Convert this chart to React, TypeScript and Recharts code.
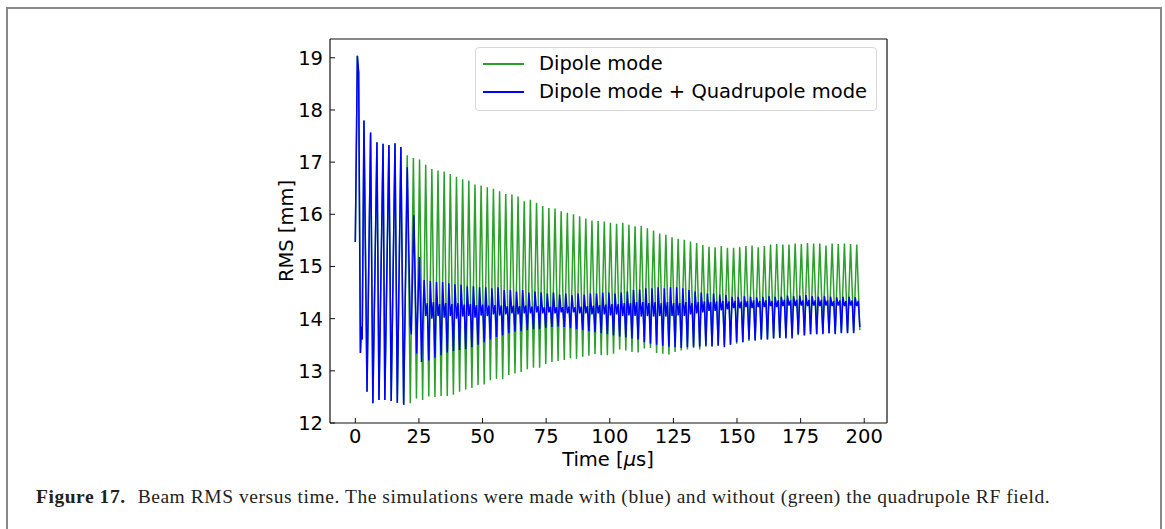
import { LineChart, Line, XAxis, YAxis } from "recharts";

// shared start (both runs identical until the quadrupole field kicks in)
const earlyTimes = [0, 0.8, 1.3, 2.0, 2.4, 2.7, 3.4, 4.6, 6.0, 6.9, 8.5, 9.3, 10.9, 11.6, 13.2, 14.1, 15.6, 16.5, 17.9, 19.0];
const earlyValues = [15.47, 19.04, 18.72, 13.34, 13.85, 13.6, 17.8, 12.6, 17.57, 12.38, 17.38, 12.44, 17.35, 12.44, 17.33, 12.42, 17.36, 12.39, 17.29, 12.35];

const FIRST_PEAK = 20.4;
const CYCLE = 2.42;

// dipole mode: peak / trough of each oscillation after t = 20.4 us
const dipolePeaks = [
  17.13, 17.08, 17.05, 16.95, 16.87, 16.84, 16.82, 16.77, 16.72, 16.67,
  16.65, 16.57, 16.55, 16.52, 16.49, 16.44, 16.39, 16.38, 16.34, 16.25,
  16.28, 16.22, 16.16, 16.12, 16.11, 16.06, 16.03, 16.0, 15.96, 15.92,
  15.88, 15.87, 15.86, 15.84, 15.82, 15.84, 15.8, 15.77, 15.78, 15.73,
  15.69, 15.63, 15.61, 15.56, 15.53, 15.51, 15.48, 15.45, 15.41, 15.38,
  15.37, 15.39, 15.36, 15.36, 15.37, 15.39, 15.4, 15.37, 15.39, 15.42,
  15.43, 15.42, 15.42, 15.44, 15.43, 15.45, 15.44, 15.44, 15.4, 15.44,
  15.43, 15.44, 15.43, 15.42,
];
const dipoleTroughs = [
  12.38, 12.47, 12.44, 12.51, 12.5, 12.52, 12.52, 12.54, 12.6, 12.64,
  12.67, 12.73, 12.74, 12.82, 12.85, 12.84, 12.92, 12.95, 12.98, 13.03,
  13.06, 13.06, 13.13, 13.17, 13.19, 13.21, 13.24, 13.23, 13.27, 13.29,
  13.32, 13.3, 13.3, 13.33, 13.41, 13.39, 13.36, 13.35, 13.43, 13.44,
  13.34, 13.33, 13.31, 13.36, 13.39, 13.41, 13.44, 13.41, 13.46, 13.46,
  13.49, 13.49, 13.5, 13.52, 13.55, 13.57, 13.58, 13.6, 13.6, 13.62,
  13.63, 13.65, 13.66, 13.68, 13.68, 13.7, 13.7, 13.71, 13.72, 13.72,
  13.73, 13.73, 13.74, 13.78,
];

// dipole + quadrupole: switch-on transient
const quadStartTimes = [20.4, 21.6, 22.0, 23.0, 24.1, 24.5, 25.2, 26.0];
const quadStartValues = [16.9, 13.88, 13.7, 15.98, 13.33, 14.08, 15.18, 13.17];

// then per cycle (cycle 3 .. 73): peak, dip, bump, trough
const quadPeaks = [
  14.74, 14.72, 14.7, 14.7, 14.68, 14.66, 14.65, 14.62, 14.62, 14.6,
  14.6, 14.58, 14.6, 14.55, 14.55, 14.52, 14.55, 14.5, 14.52, 14.5,
  14.48, 14.5, 14.46, 14.48, 14.45, 14.48, 14.46, 14.48, 14.48, 14.5,
  14.5, 14.48, 14.5, 14.52, 14.55, 14.56, 14.58, 14.58, 14.6, 14.58,
  14.6, 14.6, 14.58, 14.55, 14.52, 14.5, 14.48, 14.48, 14.46, 14.45,
  14.42, 14.42, 14.43, 14.42, 14.41, 14.42, 14.43, 14.42, 14.42, 14.44,
  14.43, 14.44, 14.45, 14.43, 14.42, 14.43, 14.42, 14.41, 14.42, 14.42,
  14.41,
];
const quadDips = [
  14.05, 14.0, 14.05, 14.02, 14.05, 14.0, 14.04, 14.05, 14.02, 14.06,
  14.05, 14.08, 14.06, 14.08, 14.1, 14.08, 14.1, 14.1, 14.12, 14.1,
  14.12, 14.1, 14.12, 14.1, 14.12, 14.1, 14.1, 14.08, 14.1, 14.08,
  14.06, 14.08, 14.05, 14.06, 14.05, 14.04, 14.05, 14.04, 14.05, 14.04,
  14.05, 14.06, 14.05, 14.08, 14.1, 14.12, 14.15, 14.15, 14.16, 14.18,
  14.2, 14.2, 14.22, 14.2, 14.22, 14.22, 14.24, 14.22, 14.24, 14.25,
  14.24, 14.25, 14.24, 14.25, 14.24, 14.25, 14.24, 14.25, 14.24, 14.25,
  14.24,
];
const quadBumps = [
  14.3, 14.32, 14.28, 14.3, 14.28, 14.3, 14.27, 14.28, 14.26, 14.27,
  14.25, 14.26, 14.25, 14.24, 14.25, 14.24, 14.25, 14.23, 14.24, 14.22,
  14.23, 14.22, 14.22, 14.23, 14.22, 14.23, 14.24, 14.25, 14.26, 14.27,
  14.28, 14.28, 14.3, 14.3, 14.32, 14.32, 14.3, 14.32, 14.3, 14.32,
  14.3, 14.3, 14.32, 14.3, 14.32, 14.33, 14.32, 14.33, 14.34, 14.33,
  14.34, 14.33, 14.34, 14.35, 14.34, 14.35, 14.34, 14.35, 14.36, 14.35,
  14.36, 14.35, 14.36, 14.35, 14.36, 14.35, 14.34, 14.35, 14.34, 14.35,
  14.34,
];
const quadTroughs = [
  13.2, 13.25, 13.3, 13.35, 13.38, 13.4, 13.42, 13.45, 13.5, 13.55,
  13.6, 13.65, 13.68, 13.72, 13.75, 13.76, 13.78, 13.8, 13.8, 13.82,
  13.84, 13.85, 13.84, 13.82, 13.8, 13.78, 13.76, 13.74, 13.72, 13.7,
  13.68, 13.66, 13.64, 13.62, 13.6, 13.55, 13.52, 13.5, 13.48, 13.46,
  13.45, 13.44, 13.45, 13.46, 13.46, 13.48, 13.47, 13.48, 13.45, 13.5,
  13.55, 13.55, 13.6, 13.58, 13.6, 13.6, 13.62, 13.63, 13.62, 13.62,
  13.7, 13.68, 13.7, 13.7, 13.7, 13.72, 13.7, 13.72, 13.72, 13.72,
  13.84,
];

const xTicks = [0, 25, 50, 75, 100, 125, 150, 175, 200];
const yTicks = [12, 13, 14, 15, 16, 17, 18, 19];

const early = earlyTimes.map((t, i) => ({ t, v: earlyValues[i] }));

const dipoleData = [...early];
dipolePeaks.forEach((p, k) => {
  const t = FIRST_PEAK + k * CYCLE;
  dipoleData.push({ t, v: p });
  if (k < dipoleTroughs.length) dipoleData.push({ t: t + CYCLE / 2, v: dipoleTroughs[k] });
});

const quadData = [...early, ...quadStartTimes.map((t, i) => ({ t, v: quadStartValues[i] }))];
quadPeaks.forEach((p, i) => {
  const t = FIRST_PEAK + (i + 3) * CYCLE;
  quadData.push({ t: t - CYCLE / 4, v: p });
  quadData.push({ t, v: quadDips[i] });
  quadData.push({ t: t + CYCLE / 4, v: quadBumps[i] });
  quadData.push({ t: t + CYCLE / 2, v: quadTroughs[i] });
});

const font = "'DejaVu Sans', sans-serif";
const FS = 19.5;
const tickStyle = { fontFamily: font, fontSize: FS, fill: "#000" };
const axisLine = { stroke: "#111", strokeWidth: 1.2 };

export default function App() {
  return (
    <div style={{ position: "absolute", left: 0, top: 0, width: 1165, height: 529, background: "#fff", overflow: "hidden" }}>
      <div
        style={{
          position: "absolute",
          left: 6,
          top: 7,
          width: 1152,
          height: 540,
          borderLeft: "2px solid #888",
          borderTop: "2px solid #888",
          borderRight: "2px solid #888",
        }}
      />
      <LineChart
        width={1165}
        height={529}
        style={{ position: "absolute", left: 0, top: 0 }}
        margin={{ top: 29, right: 268, bottom: 76, left: 270 }}
      >
        <XAxis
          type="number"
          dataKey="t"
          domain={[-9.95, 208.95]}
          ticks={xTicks}
          allowDataOverflow
          height={30}
          tickSize={-5}
          tickMargin={11}
          tick={tickStyle}
          axisLine={axisLine}
          tickLine={{ stroke: "#111" }}
        />
        <XAxis
          xAxisId="top"
          orientation="top"
          type="number"
          dataKey="t"
          domain={[-9.95, 208.95]}
          ticks={xTicks}
          allowDataOverflow
          height={10}
          tickSize={-5}
          tick={false}
          axisLine={axisLine}
          tickLine={{ stroke: "#111" }}
        />
        <YAxis
          type="number"
          domain={[12, 19.36]}
          ticks={yTicks}
          allowDataOverflow
          width={60}
          tickSize={-5}
          tickMargin={12}
          tick={tickStyle}
          axisLine={axisLine}
          tickLine={{ stroke: "#111" }}
        />
        <YAxis
          yAxisId="right"
          orientation="right"
          type="number"
          domain={[12, 19.36]}
          ticks={yTicks}
          allowDataOverflow
          width={10}
          tickSize={-5}
          tick={false}
          axisLine={axisLine}
          tickLine={{ stroke: "#111" }}
        />
        <Line
          data={dipoleData}
          dataKey="v"
          stroke="#2ca02c"
          strokeWidth={1.5}
          dot={false}
          isAnimationActive={false}
        />
        <Line
          data={quadData}
          dataKey="v"
          stroke="#0000ff"
          strokeWidth={1.5}
          dot={false}
          isAnimationActive={false}
        />
      </LineChart>

      {/* legend */}
      <div
        style={{
          position: "absolute",
          left: 475,
          top: 47,
          width: 400,
          height: 62,
          border: "1px solid #d6d6d6",
          borderRadius: 4,
          background: "rgba(255,255,255,0.8)",
          fontFamily: font,
          fontSize: FS,
        }}
      >
        {[
          { label: "Dipole mode", color: "#2ca02c", y: 16 },
          { label: "Dipole mode + Quadrupole mode", color: "#0000ff", y: 44 },
        ].map((d) => (
          <div key={d.label} style={{ position: "absolute", left: 0, top: d.y - 12, height: 24, width: 400 }}>
            <div style={{ position: "absolute", left: 7, top: 11, width: 41, height: 1.5, background: d.color }} />
            <div style={{ position: "absolute", left: 63, top: 0, lineHeight: "24px", whiteSpace: "nowrap" }}>{d.label}</div>
          </div>
        ))}
      </div>

      {/* axis titles */}
      <div
        style={{
          position: "absolute",
          left: 287 - 60,
          top: 231 - 12,
          width: 120,
          height: 24,
          lineHeight: "24px",
          textAlign: "center",
          transform: "rotate(-90deg)",
          fontFamily: font,
          fontSize: FS,
        }}
      >
        RMS [mm]
      </div>
      <div
        style={{
          position: "absolute",
          left: 508,
          top: 448,
          width: 200,
          lineHeight: "24px",
          textAlign: "center",
          fontFamily: font,
          fontSize: FS,
        }}
      >
        Time [<i>μ</i>s]
      </div>

      {/* caption */}
      <div
        style={{
          position: "absolute",
          left: 36,
          top: 486,
          whiteSpace: "nowrap",
          fontFamily: "'Liberation Serif', serif",
          fontSize: 19.5,
          letterSpacing: 0.55,
          lineHeight: "22px",
          color: "#231f20",
        }}
      >
        <b>Figure 17.</b>
        <span style={{ marginLeft: 12 }}>
          Beam RMS versus time. The simulations were made with (blue) and without (green) the quadrupole RF field.
        </span>
      </div>
    </div>
  );
}
